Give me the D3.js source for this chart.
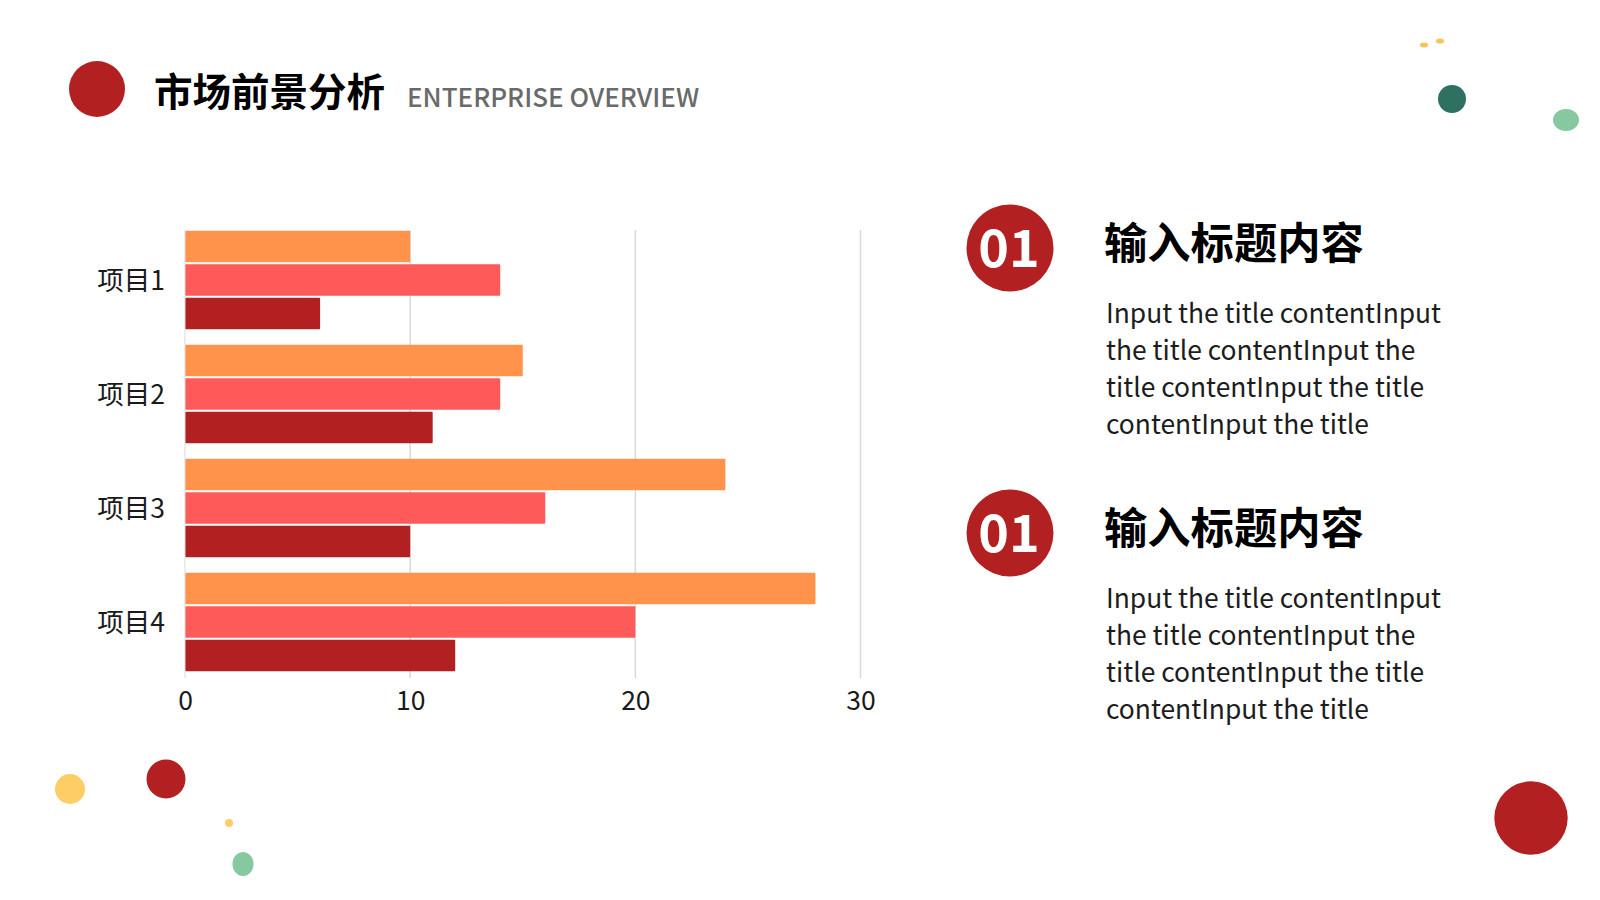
<!DOCTYPE html>
<html>
<head>
<meta charset="utf-8">
<script src="https://cdn.jsdelivr.net/npm/d3@7"></script>
<style>
  html, body { margin: 0; padding: 0; background: #fff; }
  svg { display: block; font-family: "Noto Sans CJK SC", "Noto Sans", sans-serif; }
</style>
</head>
<body>
<div id="plot"></div>
<script>
// chart data
var categories = ["项目1", "项目2", "项目3", "项目4"];
var seriesNames = ["系列3", "系列2", "系列1"];
var series3 = [10, 15, 24, 28];   // orange, top bar of each group
var series2 = [14, 14, 16, 20];   // pink, middle bar
var series1 = [6, 11, 10, 12];    // dark red, bottom bar
var xTicks = [0, 10, 20, 30];

var titleCn = "市场前景分析";
var titleEn = "ENTERPRISE OVERVIEW";
var blockTitle = "输入标题内容";
var blockNumber = "01";
var blockLines = [
    "Input the title contentInput",
    "the title contentInput the",
    "title contentInput the title",
    "contentInput the title"
];

var colors = ["#FF934B", "#FF5A5A", "#B22022"];

var width = 1600;
var height = 900;

var svg = d3.select("#plot").append("svg").attr("width", width).attr("height", height);

// header
svg.append("circle").attr("cx", 97).attr("cy", 89).attr("r", 28).attr("fill", "#B22022");
svg.append("text")
    .attr("x", 154).attr("y", 106)
    .attr("font-size", 38.5).attr("font-weight", 700).attr("fill", "#000")
    .text(titleCn);
svg.append("text")
    .attr("x", 407).attr("y", 107)
    .attr("font-size", 26).attr("font-weight", 500).attr("fill", "#6a6a6a")
    .text(titleEn);

// decorations
var blobs = [
    {cx: 1424, cy: 45, rx: 4, ry: 2.5, c: "#F8C356"},
    {cx: 1440, cy: 41, rx: 4, ry: 2.5, c: "#F8C356"},
    {cx: 1452, cy: 99, rx: 14, ry: 14, c: "#2E7062"},
    {cx: 1566, cy: 120, rx: 13, ry: 11, c: "#86C8A0"},
    {cx: 70, cy: 789, rx: 15, ry: 15, c: "#FFCD66"},
    {cx: 166, cy: 779, rx: 19.5, ry: 19.5, c: "#B22022"},
    {cx: 229, cy: 823, rx: 4, ry: 4, c: "#FFCD66"},
    {cx: 243, cy: 864, rx: 10.5, ry: 12, c: "#86C8A0"},
    {cx: 1531, cy: 818, rx: 36.7, ry: 36.7, c: "#B22022"}
];
svg.append("g").selectAll("ellipse")
    .data(blobs)
    .enter()
    .append("ellipse")
    .attr("cx", function(d) { return d.cx; })
    .attr("cy", function(d) { return d.cy; })
    .attr("rx", function(d) { return d.rx; })
    .attr("ry", function(d) { return d.ry; })
    .attr("fill", function(d) { return d.c; });

// bar chart
var dataSet = categories.map(function(c, i) {
    return {category: c, values: [series3[i], series2[i], series1[i]]};
});

var xScale = d3.scaleLinear().domain([0, 30]).range([185, 860.5]);

var yScale = d3.scaleBand()
    .domain(categories)
    .range([223, 679])
    .paddingInner(0.135)
    .paddingOuter(0.0675);

var ySub = d3.scaleBand()
    .domain(seriesNames)
    .range([0, yScale.bandwidth()])
    .paddingInner(0.055);

// gridlines
svg.append("g")
    .selectAll("line")
    .data(xTicks.slice(1))
    .enter()
    .append("line")
    .attr("x1", function(d) { return xScale(d); })
    .attr("x2", function(d) { return xScale(d); })
    .attr("y1", 230)
    .attr("y2", 678)
    .attr("stroke", "#d9d9d9")
    .attr("stroke-width", 1.5);

var groups = svg.append("g")
    .selectAll("g")
    .data(dataSet)
    .enter()
    .append("g")
    .attr("transform", function(d) { return "translate(0," + yScale(d.category) + ")"; });

groups.selectAll("rect")
    .data(function(d) { return d.values.map(function(v, j) { return {name: seriesNames[j], value: v, idx: j}; }); })
    .enter()
    .append("rect")
    .attr("x", xScale(0))
    .attr("y", function(d) { return ySub(d.name); })
    .attr("width", function(d) { return xScale(d.value) - xScale(0); })
    .attr("height", ySub.bandwidth())
    .attr("rx", 1)
    .attr("fill", function(d) { return colors[d.idx]; });

// axis line at 0
svg.append("line")
    .attr("x1", xScale(0)).attr("x2", xScale(0))
    .attr("y1", 230).attr("y2", 678)
    .attr("stroke", "#d9d9d9").attr("stroke-width", 1);

var xAxis = svg.append("g")
    .attr("transform", "translate(0,681)")
    .call(d3.axisBottom(xScale).tickValues(xTicks).tickSize(0).tickPadding(10));
xAxis.select(".domain").remove();
xAxis.selectAll("text")
    .attr("font-family", "Noto Sans CJK SC")
    .attr("font-size", 26.5)
    .attr("fill", "#1a1a1a");

var yAxis = svg.append("g")
    .attr("transform", "translate(165,2)")
    .call(d3.axisLeft(yScale).tickSize(0).tickPadding(0));
yAxis.select(".domain").remove();
yAxis.selectAll("text")
    .attr("font-family", "Noto Sans CJK SC")
    .attr("font-size", 26.5)
    .attr("fill", "#1a1a1a");

// right side text blocks
var blockTops = [0, 285];
blockTops.forEach(function(dy) {
    var g = svg.append("g").attr("transform", "translate(0," + dy + ")");
    g.append("circle").attr("cx", 1010).attr("cy", 248).attr("r", 43.5).attr("fill", "#B22022");
    g.append("text")
        .attr("x", 1009).attr("y", 267)
        .attr("text-anchor", "middle")
        .attr("font-size", 52).attr("font-weight", 700).attr("fill", "#fff")
        .text(blockNumber);
    g.append("text")
        .attr("x", 1104).attr("y", 259)
        .attr("font-size", 43.3).attr("font-weight", 700).attr("fill", "#000")
        .text(blockTitle);
    g.selectAll(".line")
        .data(blockLines)
        .enter()
        .append("text")
        .attr("x", 1106)
        .attr("y", function(d, i) { return 322.5 + i * 37; })
        .attr("font-size", 26.4).attr("font-weight", 400).attr("fill", "#1c1c1c")
        .text(function(d) { return d; });
});
</script>
</body>
</html>
